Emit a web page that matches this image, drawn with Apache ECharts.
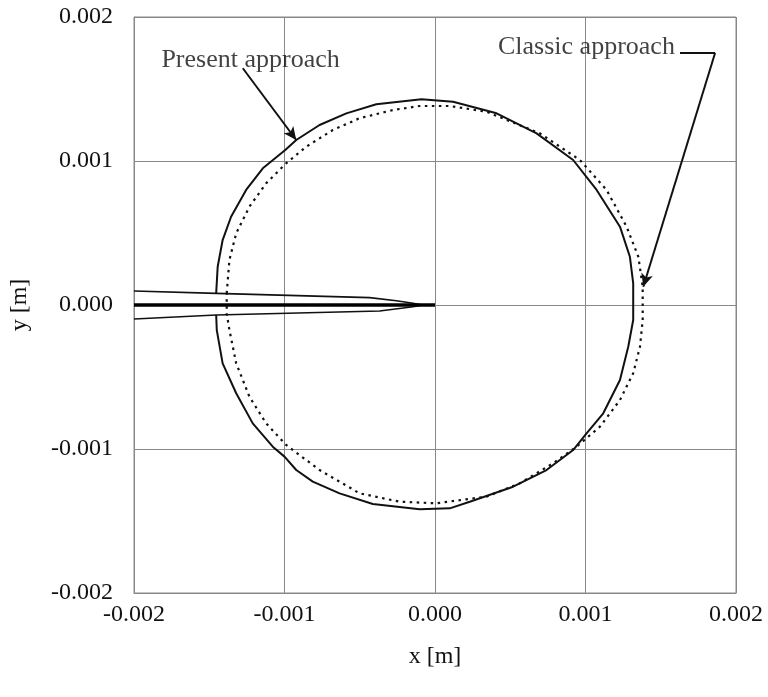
<!DOCTYPE html>
<html>
<head>
<meta charset="utf-8">
<script src="https://cdn.jsdelivr.net/npm/echarts@6/dist/echarts.min.js"></script>
<style>html,body{margin:0;padding:0;background:#fff}#c{width:768px;height:697px}</style>
</head>
<body>
<div id="c"></div>
<script>
// Present approach (solid) contour, m
var presentX = [-0.001454,-0.001444,-0.001411,-0.001355,-0.001255,-0.001144,-0.000995,-0.000922,-0.000767,-0.000589,-0.000390,-0.000090,0.000120,0.000409,0.000675,0.000918,0.001074,0.001229,0.001295,0.001317,0.001317,0.001284,0.001229,0.001118,0.001007,0.000918,0.000741,0.000519,0.000231,0.000098,-0.000102,-0.000413,-0.000634,-0.000812,-0.000922,-0.001000,-0.001078,-0.001211,-0.001321,-0.001411,-0.001450,-0.001454];
var presentY = [0.000081,0.000266,0.000451,0.000613,0.000799,0.000949,0.001076,0.001146,0.001250,0.001331,0.001394,0.001428,0.001412,0.001331,0.001192,0.001007,0.000799,0.000544,0.000335,0.000151,-0.000104,-0.000290,-0.000521,-0.000752,-0.000891,-0.001007,-0.001146,-0.001262,-0.001366,-0.001412,-0.001419,-0.001382,-0.001308,-0.001227,-0.001146,-0.001053,-0.000984,-0.000822,-0.000613,-0.000405,-0.000174,-0.000069];
// Classic approach (dotted) contour, m
var classicX = [-0.001384,-0.001366,-0.001321,-0.001233,-0.001122,-0.000989,-0.000856,-0.000679,-0.000501,-0.000279,-0.000102,0.000098,0.000342,0.000697,0.000963,0.001140,0.001273,0.001351,0.001380,0.001380,0.001362,0.001317,0.001229,0.001096,0.000941,0.000785,0.000564,0.000342,0.000009,-0.000235,-0.000501,-0.000767,-0.000989,-0.001122,-0.001233,-0.001321,-0.001366,-0.001384,-0.001384];
var classicY = [0.000081,0.000313,0.000498,0.000683,0.000845,0.000984,0.001099,0.001215,0.001297,0.001354,0.001382,0.001382,0.001342,0.001192,0.001007,0.000799,0.000544,0.000335,0.000127,-0.000104,-0.000290,-0.000474,-0.000660,-0.000845,-0.000984,-0.001099,-0.001238,-0.001331,-0.001377,-0.001366,-0.001308,-0.001146,-0.000972,-0.000822,-0.000637,-0.000405,-0.000174,-0.000058,0.000081];
// Crack faces, m
var crackUpperX = [-0.002,-0.001454,-0.000434,-0.000257,-0.000146,-0.000085];
var crackUpperY = [0.000097,0.000081,0.000051,0.000030,0.000012,0];
var crackLowerX = [-0.002,-0.001454,-0.000368,-0.000146,-0.000085];
var crackLowerY = [-0.000097,-0.000069,-0.000042,-0.000012,0];
var crackLineX = [-0.002,0];
var crackLineY = [0,0];
// Axis ticks
var xTicks = [-0.002,-0.001,0,0.001,0.002];
var yTicks = [-0.002,-0.001,0,0.001,0.002];
// Annotation labels
var labels = ['Present approach','Classic approach'];

function pairs(xs, ys){ return xs.map(function(x,i){return [x, ys[i]];}); }

var FONT = 'Liberation Serif';
var chart = echarts.init(document.getElementById('c'), null, {renderer:'canvas'});
var option = {
  backgroundColor:'#fff',
  animation:false,
  grid:{left:134, right:32, top:17, bottom:104, show:true, borderColor:'#888', borderWidth:1, containLabel:false, outerBoundsMode:'none'},
  xAxis:{type:'value', min:xTicks[0], max:xTicks[xTicks.length-1], interval:0.001,
    name:'x [m]', nameLocation:'middle', nameGap:52,
    nameTextStyle:{fontFamily:FONT, fontSize:24, color:'#111'},
    axisLine:{show:true, onZero:false, lineStyle:{color:'#888', width:1}},
    axisTick:{show:false},
    splitLine:{show:true, lineStyle:{color:'#888', width:1}},
    axisLabel:{margin:10, fontFamily:FONT, fontSize:24, color:'#111', formatter:function(v){return v.toFixed(3);}}
  },
  yAxis:{type:'value', min:yTicks[0], max:yTicks[yTicks.length-1], interval:0.001,
    name:'y [m]', nameLocation:'middle', nameGap:102, nameRotate:90,
    nameTextStyle:{fontFamily:FONT, fontSize:24, color:'#111'},
    axisLine:{show:true, onZero:false, lineStyle:{color:'#888', width:1}},
    axisTick:{show:false},
    splitLine:{show:true, lineStyle:{color:'#888', width:1}},
    axisLabel:{margin:21, fontFamily:FONT, fontSize:24, color:'#111', formatter:function(v){return v.toFixed(3);}}
  },
  series:[
    {type:'line', name:'Classic approach', data:pairs(classicX, classicY), symbol:'none',
      lineStyle:{color:'#111', width:2.2, type:[2.5,4.5]}, z:3},
    {type:'line', name:'Present approach', data:pairs(presentX, presentY), symbol:'none',
      lineStyle:{color:'#111', width:2}, z:4},
    {type:'line', data:pairs(crackUpperX, crackUpperY), symbol:'none', lineStyle:{color:'#111', width:1.6}, z:4},
    {type:'line', data:pairs(crackLowerX, crackLowerY), symbol:'none', lineStyle:{color:'#111', width:1.6}, z:4},
    {type:'line', data:pairs(crackLineX, crackLineY), symbol:'none', lineStyle:{color:'#000', width:3.5}, z:5},
    {type:'scatter', symbolSize:0, silent:true, z:6,
      data:[
        {value:[-0.001818,0.001701], label:{show:true, position:'right', distance:0, formatter:labels[0]}},
        {value:[0.001594,0.001792], label:{show:true, position:'left', distance:0, formatter:labels[1]}}
      ],
      label:{fontFamily:FONT, fontSize:26, color:'#111'},
      markLine:{silent:true, symbolSize:[9,13], animation:false,
        lineStyle:{color:'#111', width:2, type:'solid'}, label:{show:false},
        data:[
          [{coord:[-0.001277,0.001644], symbol:'none'},{coord:[-0.000922,0.001146], symbol:'arrow'}],
          [{coord:[0.001628,0.00175], symbol:'none'},{coord:[0.001861,0.00175], symbol:'none'}],
          [{coord:[0.001861,0.00175], symbol:'none'},{coord:[0.001384,0.000127], symbol:'arrow'}]
        ]
      }
    }
  ]
};
chart.setOption(option);
</script>
</body>
</html>
